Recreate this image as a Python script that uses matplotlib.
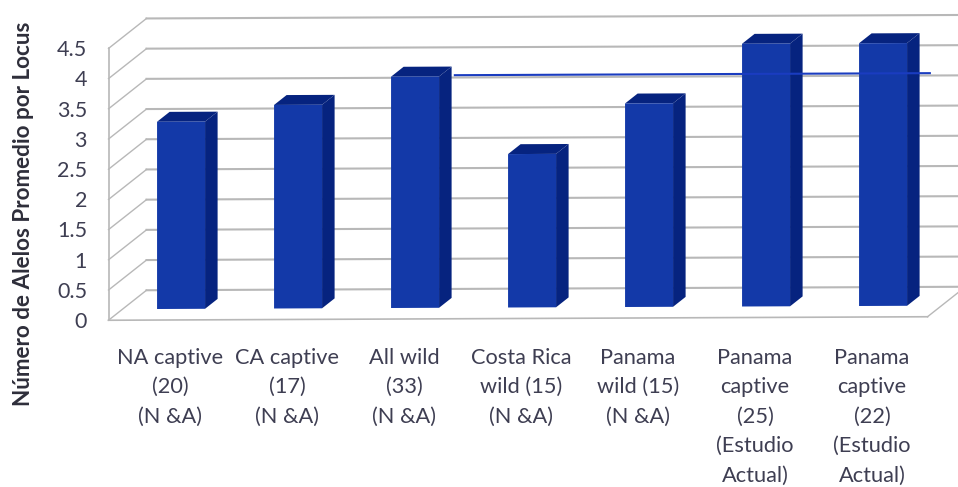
import matplotlib
matplotlib.use("Agg")
import matplotlib.pyplot as plt
import numpy as np
from matplotlib.transforms import Affine2D

categories = [
    "NA captive\n(20)\n(N &A)",
    "CA captive\n(17)\n(N &A)",
    "All wild\n(33)\n(N &A)",
    "Costa Rica\nwild (15)\n(N &A)",
    "Panama\nwild (15)\n(N &A)",
    "Panama\ncaptive\n(25)\n(Estudio\nActual)",
    "Panama\ncaptive\n(22)\n(Estudio\nActual)",
]
values = [3.10, 3.37, 3.83, 2.54, 3.37, 4.35, 4.35]
y_ticks = [0, 0.5, 1, 1.5, 2, 2.5, 3, 3.5, 4, 4.5]
y_tick_labels = ["0", "0.5", "1", "1.5", "2", "2.5", "3", "3.5", "4", "4.5"]
reference_level = 3.85
reference_span = [2.34, 6.40]

# fake 3D box: depth 0 is the front edge of the floor, depth 1 the back wall
PX_X = 117.0
PX_Y = 60.4
DEPTH_X = 38 / PX_X
DEPTH_Y = 30 / PX_Y
TILT = 0.5 / PX_Y
BAR_WIDTH = 48 / PX_X
BAR_FRONT = 0.37
BAR_BACK = 0.70
GRID = "#b8b8b8"
TEXT = "#3e3e52"
FRONT = "#1339a8"
SIDE = "#06237f"
BLUE = "#1a3cc0"


def project(x, v, depth):
    x = np.asarray(x, dtype=float)
    v = np.asarray(v, dtype=float)
    return x + depth * DEPTH_X, v + TILT * x + depth * DEPTH_Y


plt.rcParams["font.family"] = ["Lato", "DejaVu Sans"]
fig = plt.figure(figsize=(9.58, 4.87), dpi=100)
ax = fig.add_axes([0, 0, 1, 1])
ax.set_xlim(-167 / PX_X, (958 - 167) / PX_X)
ax.set_ylim(-167 / PX_Y, 320 / PX_Y)
ax.axis("off")

left, right = -0.5, 6.5
far_right = 7.2

# back wall and left wall lines
for tick in y_ticks:
    ax.plot(*project([left, far_right], [tick, tick], 1), color=GRID, lw=1.5, zorder=1)
    xs, ys = project(left, tick, 0)
    xe, ye = project(left, tick, 1)
    ax.plot([xs, xe], [ys, ye], color=GRID, lw=1.0, zorder=1)

ax.plot(*project([left, left], [0, y_ticks[-1]], 0), color=GRID, lw=1.2, zorder=1)
ax.plot(*project([left, right], [0, 0], 0), color=GRID, lw=1.2, zorder=1)
xs, ys = project(right, 0, 0)
xe, ye = project(right, 0, 1)
ax.plot([xs, xe], [ys, ye], color=GRID, lw=1.0, zorder=1)

# bars: side and top faces first, then the front through the sheared transform
front_tf = Affine2D.from_values(1, TILT, 0, 1, BAR_FRONT * DEPTH_X, BAR_FRONT * DEPTH_Y) + ax.transData
for i, value in enumerate(values):
    x0, x1 = i - BAR_WIDTH / 2, i + BAR_WIDTH / 2
    p = [project(x1, 0, BAR_FRONT), project(x1, 0, BAR_BACK),
         project(x1, value, BAR_BACK), project(x1, value, BAR_FRONT)]
    ax.fill(*zip(*p), color=SIDE, lw=0, zorder=3)
    p = [project(x0, value, BAR_FRONT), project(x1, value, BAR_FRONT),
         project(x1, value, BAR_BACK), project(x0, value, BAR_BACK)]
    ax.fill(*zip(*p), color=SIDE, lw=0, zorder=3)
ax.bar(range(len(values)), values, width=BAR_WIDTH, color=FRONT, transform=front_tf, zorder=4)

ax.plot(*project(reference_span, [reference_level] * 2, BAR_FRONT), color=BLUE, lw=1.5, zorder=5)

for tick, label in zip(y_ticks, y_tick_labels):
    ax.text(-80 / PX_X, tick - 2 / PX_Y, label, ha="right", va="center", fontsize=15.5, color=TEXT)

for i, label in enumerate(categories):
    ax.text(i + 3 / PX_X, -27.5 / PX_Y, label, ha="center", va="top", fontsize=15.7,
            color=TEXT, linespacing=1.6)

ax.text(-143 / PX_X, 106 / PX_Y, "Número de Alelos Promedio por Locus", rotation=90,
        ha="center", va="center", fontsize=16.2, fontweight="bold", color="#2e2e3a")

fig.savefig("out.png", dpi=100)
plt.close(fig)
